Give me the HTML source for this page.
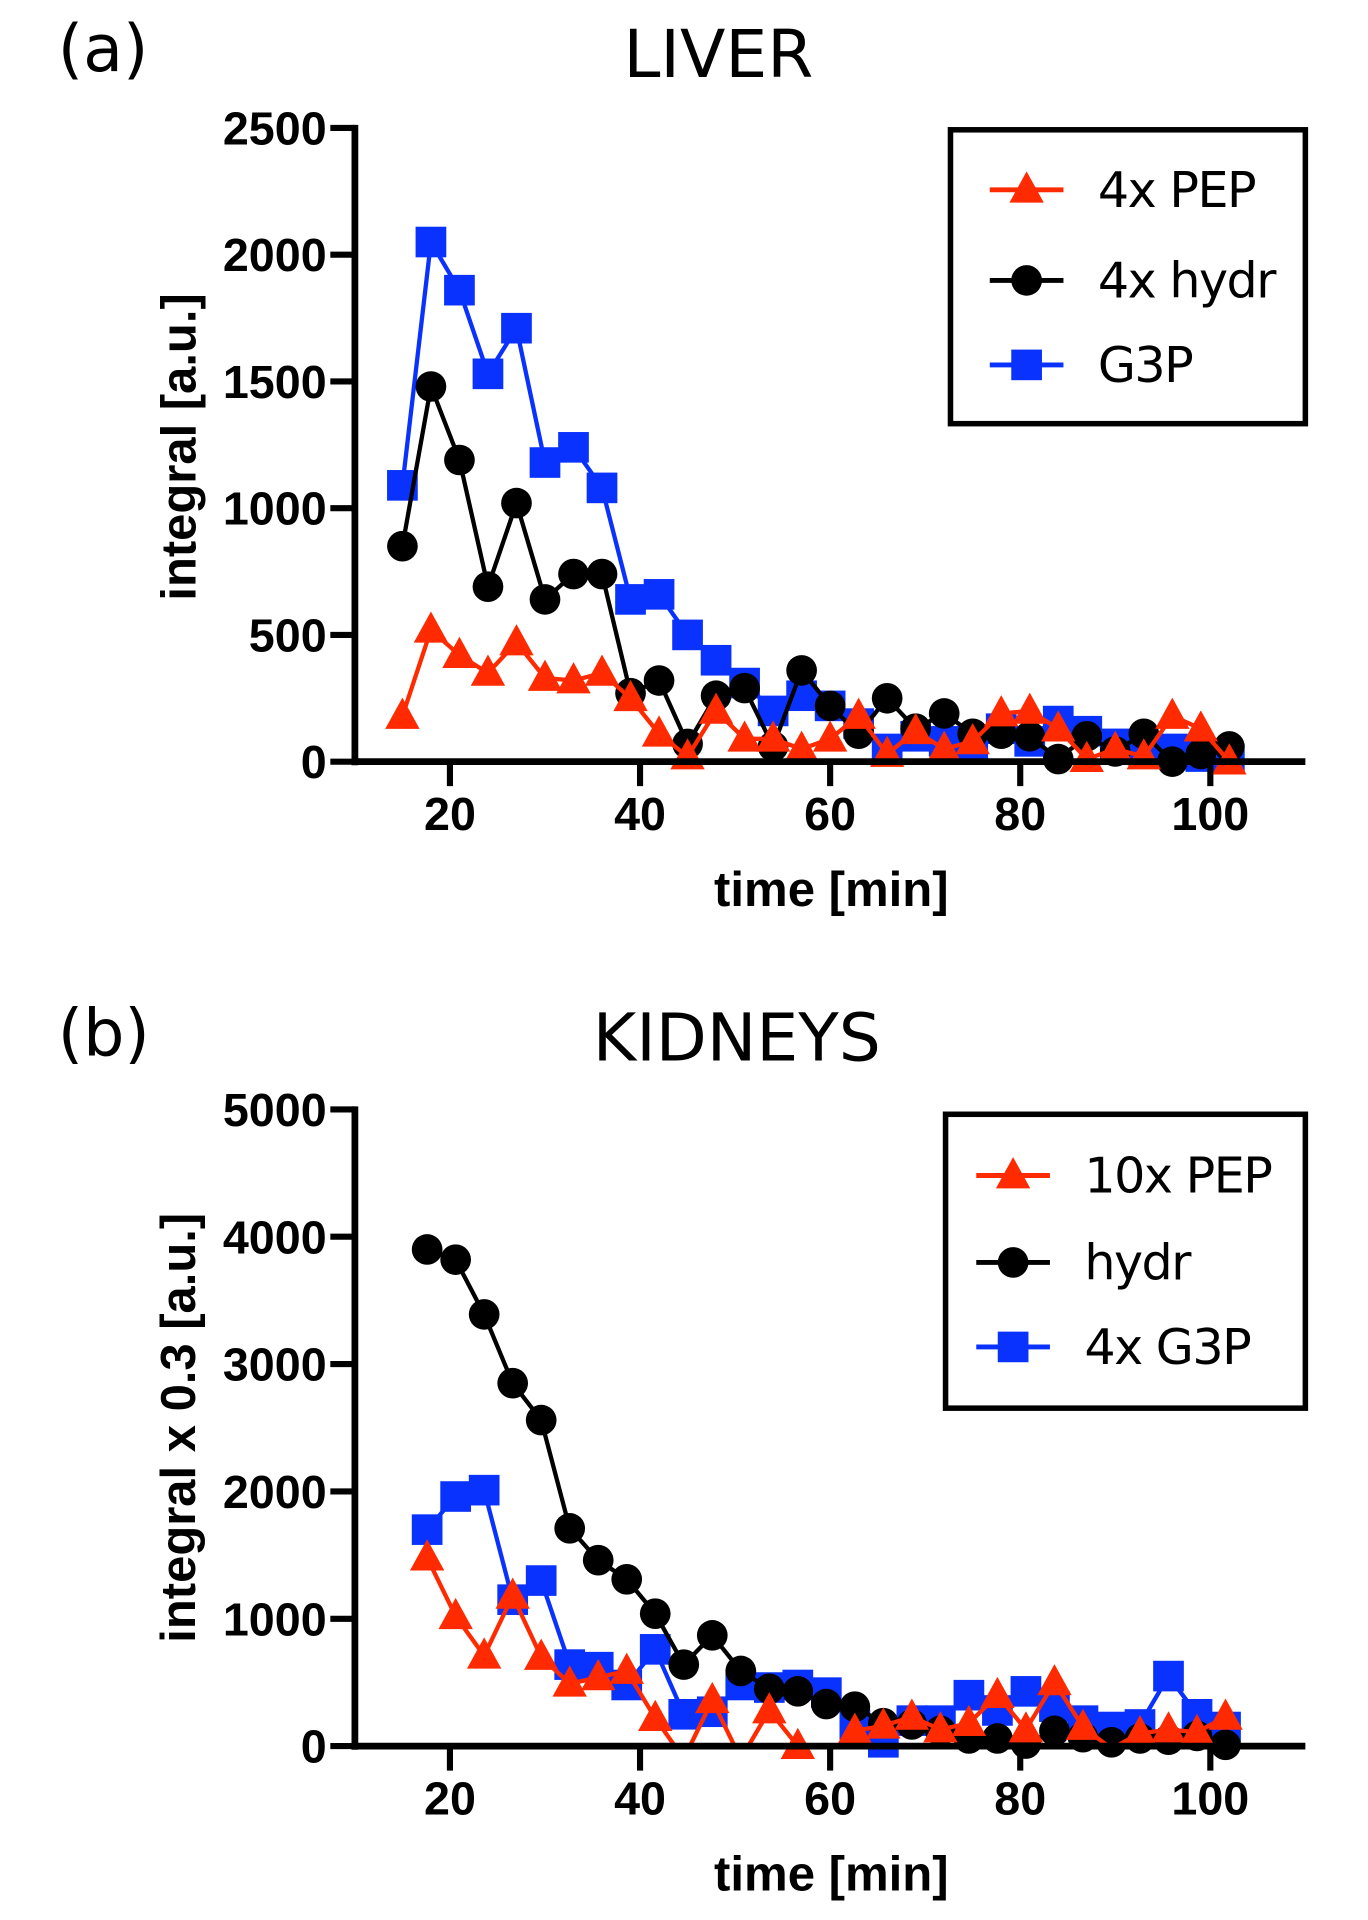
<!DOCTYPE html>
<html><head><meta charset="utf-8"><style>
html,body{margin:0;padding:0;background:#fff}
svg{display:block}
text{font-family:"Liberation Sans",Arial,sans-serif}
.dv{font-family:"DejaVu Sans","Liberation Sans",sans-serif}
</style></head><body>
<svg id="fig" width="1368" height="1920" viewBox="0 0 1114 1568" preserveAspectRatio="none" xmlns="http://www.w3.org/2000/svg">
<defs>
<clipPath id="clipA"><rect x="289" y="60" width="800" height="562"/></clipPath>
<clipPath id="clipB"><rect x="289" y="860" width="800" height="566"/></clipPath>
</defs>
</svg>
<script>
// ---- Liver data ----
const liverTimes=[15,18,21,24,27,30,33,36,39,42,45,48,51,54,57,60,63,66,69,72,75,78,81,84,87,90,93,96,99,102];
const liverG3P=[1090,2050,1860,1530,1710,1180,1240,1080,640,660,500,400,310,200,260,220,150,50,100,80,60,130,80,160,120,70,40,50,20,10];
const liverHydr=[850,1480,1190,690,1020,640,740,740,270,320,70,260,290,60,360,220,110,250,130,190,110,110,100,10,100,40,110,0,30,60];
const liverPEP=[180,520,420,350,470,330,320,350,250,110,20,200,90,90,50,90,180,30,120,50,80,190,200,130,10,50,20,180,130,0];
const liverTicksY=[0,500,1000,1500,2000,2500];
// ---- Kidney data ----
const kidTimes=[17.6,20.6,23.6,26.6,29.6,32.6,35.6,38.6,41.6,44.6,47.6,50.6,53.6,56.6,59.6,62.6,65.6,68.6,71.6,74.6,77.6,80.6,83.6,86.6,89.6,92.6,95.6,98.6,101.6];
const kidHydr=[3900,3820,3390,2850,2560,1710,1460,1310,1040,640,870,590,450,430,330,310,180,170,120,60,60,20,120,70,30,60,50,80,10];
const kidG3P=[1700,1960,2010,1150,1300,640,620,480,760,250,270,480,460,480,420,170,30,200,200,400,280,430,310,200,150,170,550,250,150];
const kidPEP=[1480,1020,710,1180,700,490,540,590,220,-100,360,-100,280,0,-200,120,160,230,130,180,400,130,500,150,-20,100,130,110,230];
const kidTicksY=[0,1000,2000,3000,4000,5000];
const ticksX=[20,40,60,80,100];

const NS="http://www.w3.org/2000/svg";
const svg=document.getElementById('fig');
function el(tag,attrs,parent,txt){const e=document.createElementNS(NS,tag);for(const k in attrs)e.setAttribute(k,attrs[k]);if(txt!==undefined)e.textContent=txt;(parent||svg).appendChild(e);return e;}
const RED="#ff2a00",BLUE="#0a32ff",BLK="#000";
const AX=289;
const xScale=t=>366.4+(t-20)*7.74;

function marker(g,type,x,y,color){
  let m;
  if(type==='tri') m=el('polygon',{points:`${x},${y-15} ${x-14},${y+10.5} ${x+14},${y+10.5}`,fill:color},g);
  else if(type==='circ') m=el('circle',{cx:x,cy:y,r:12.5,fill:color},g);
  else m=el('rect',{x:x-12.5,y:y-12.5,width:25,height:25,fill:color},g);
  return m;
}

function panel(o){
  const g=el('g',{});
  
  
  const yS=v=>o.y0-(v/o.ymax)*(o.y0-o.yTop);
  let t=el('text',{x:47,y:o.labY,'font-size':53,class:'dv'},g,o.label);
  
  t=el('text',{x:o.titleX,y:o.titleY,'font-size':54,'text-anchor':'middle',class:'dv'},g,o.title);
  
  const series=o.series;
  series.forEach(s=>{
    const sg=el('g',{},g);
    
    const pts=o.times.map((tt,i)=>xScale(tt)+','+yS(s.vals[i])).join(' ');
    const pl=el('polyline',{points:pts,fill:'none',stroke:s.color,'stroke-width':3.5,'stroke-linejoin':'round','clip-path':`url(#${o.clip})`},sg);
    
    o.times.forEach((tt,i)=>{
      if(s.vals[i]<0)return;
      const m=marker(sg,s.type,xScale(tt),yS(s.vals[i]),s.color);
      
      
    });
  });
  let a=el('line',{x1:AX,y1:o.yTop-2.5,x2:AX,y2:o.y0+3,stroke:BLK,'stroke-width':5.5},g);
  
  a=el('line',{x1:AX-2.5,y1:o.y0,x2:1063,y2:o.y0,stroke:BLK,'stroke-width':5.5},g);
  
  o.ticksY.forEach(v=>{
    const y=yS(v);
    el('line',{x1:AX-20,y1:y,x2:AX,y2:y,stroke:BLK,'stroke-width':5},g);
    const tl=el('text',{x:266,y:y+13.5,'font-size':38,'font-weight':'bold','text-anchor':'end'},g,v);
    
  });
  ticksX.forEach(v=>{
    const x=xScale(v);
    el('line',{x1:x,y1:o.y0,x2:x,y2:o.y0+20,stroke:BLK,'stroke-width':5},g);
    const tl=el('text',{x:x,y:o.y0+56,'font-size':38,'font-weight':'bold','text-anchor':'middle'},g,v);
    
  });
  t=el('text',{x:677,y:o.y0+118,'font-size':40,'font-weight':'bold','text-anchor':'middle'},g,'time [min]');
  
  const ym=o.ytitleY;
  t=el('text',{x:159,y:ym,'font-size':40,'font-weight':'bold','text-anchor':'middle',transform:`rotate(-90 159 ${ym})`},g,o.ytitle);
  
  const lg=el('g',{},g);
  
  el('rect',{x:o.lg.x,y:o.lg.y,width:o.lg.w,height:o.lg.h,fill:'#fff',stroke:BLK,'stroke-width':4.5},lg);
  series.slice().reverse().forEach((s,i)=>{
    const e=el('g',{},lg);
    
    const cy=o.lg.y+o.lg.rows[i];
    const cx=o.lg.x+o.lg.mx;
    el('line',{x1:cx-30,y1:cy,x2:cx+30,y2:cy,stroke:s.color,'stroke-width':4},e);
    marker(e,s.type,cx,cy,s.color);
    el('text',{x:o.lg.x+o.lg.tx,y:cy+14,'font-size':40,'letter-spacing':-1.2,class:'dv'},e,s.name);
  });
}

panel({name:'liver-panel',label:'(a)',labY:58,title:'LIVER',titleX:585,titleY:63,y0:622,yTop:104.5,ymax:2500,
  ticksY:liverTicksY,times:liverTimes,clip:'clipA',ytitle:'integral [a.u.]',ytitleY:365,
  lg:{x:774,y:106,w:289,h:240,mx:62,tx:120,rows:[49,123,192]},
  series:[{id:'g3p',name:'G3P',vals:liverG3P,color:BLUE,type:'sq'},
          {id:'hydr',name:'4x hydr',vals:liverHydr,color:BLK,type:'circ'},
          {id:'pep',name:'4x PEP',vals:liverPEP,color:RED,type:'tri'}]});
panel({name:'kidneys-panel',label:'(b)',labY:862,title:'KIDNEYS',titleX:600,titleY:866,y0:1426,yTop:906,ymax:5000,
  ticksY:kidTicksY,times:kidTimes,clip:'clipB',ytitle:'integral x 0.3 [a.u.]',ytitleY:1166,
  lg:{x:770,y:910,w:293,h:240,mx:55,tx:113,rows:[50,121,190]},
  series:[{id:'g3p',name:'4x G3P',vals:kidG3P,color:BLUE,type:'sq'},
          {id:'hydr',name:'hydr',vals:kidHydr,color:BLK,type:'circ'},
          {id:'pep',name:'10x PEP',vals:kidPEP,color:RED,type:'tri'}]});
</script>
</body></html>
